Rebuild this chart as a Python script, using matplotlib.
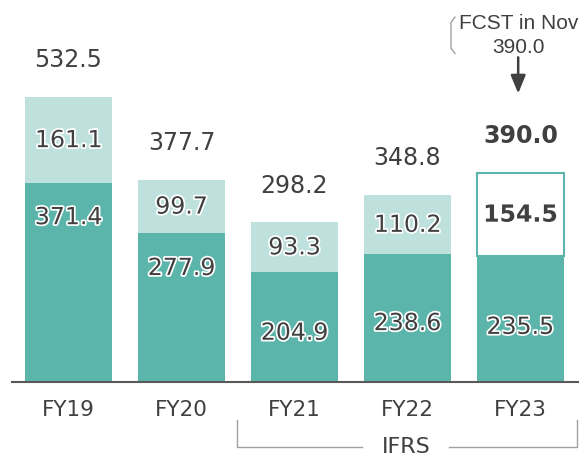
import matplotlib.pyplot as plt
import matplotlib.patheffects as pe
import numpy as np

years = ["FY19", "FY20", "FY21", "FY22", "FY23"]
lower = [371.4, 277.9, 204.9, 238.6, 235.5]
upper = [161.1, 99.7, 93.3, 110.2, 154.5]
totals = [532.5, 377.7, 298.2, 348.8, 390.0]
forecast = 390.0

# where the lower-segment numbers sit (value units), hand placed as in the slide
lower_label_y = [308, 213, 92, 110, 103]

dark = "#5bb5aa"
light = "#bfe1de"
txt = "#404040"

fig = plt.figure(figsize=(5.8, 4.58), dpi=100)
ax = fig.add_axes([0, 0, 1, 1])
ax.set_xlim(-0.606, 4.527)
ax.set_ylim(-142.1, 714.0)
ax.axis("off")

x = np.arange(len(years))
w = 0.77
ax.bar(x, lower, w, color=dark, zorder=2)
up_colors = [light] * 4 + ["white"]
ax.bar(x, upper, w, bottom=lower, color=up_colors, zorder=2)
ax.bar(x[-1:], upper[-1:], w, bottom=lower[-1:], facecolor="none",
       edgecolor=dark, linewidth=1.5, zorder=3)

halo = [pe.withStroke(linewidth=2.5, foreground="white")]
for i in range(len(years)):
    bold = i == len(years) - 1
    ax.text(x[i], lower_label_y[i], f"{lower[i]:.1f}", ha="center", va="center",
            fontsize=17, color=txt, path_effects=halo, zorder=4)
    ax.text(x[i], lower[i] + upper[i] / 2, f"{upper[i]:.1f}", ha="center", va="center",
            fontsize=17, color=txt, fontweight="bold" if bold else "normal",
            path_effects=halo, zorder=4)
    ax.text(x[i], totals[i] + 69, f"{totals[i]:.1f}", ha="center", va="center",
            fontsize=17, color=txt, fontweight="bold" if bold else "normal")
    ax.text(x[i], -52, years[i], ha="center", va="center", fontsize=15.5, color=txt)

# baseline
ax.plot([-0.5, 4.51], [0, 0], color="#595959", lw=1.5, zorder=5)

# IFRS bracket
gray = "#a0a0a0"
ax.plot([1.49, 1.49, 2.6], [-71, -121.5, -121.5], color=gray, lw=1)
ax.plot([3.37, 4.5, 4.5], [-121.5, -121.5, -71], color=gray, lw=1)
ax.text(2.985, -121, "IFRS", ha="center", va="center", fontsize=16, color=txt)

# forecast note
ax.text(3.98, 671, "FCST in Nov", ha="center", va="center", fontsize=15,
        color=txt, family="Liberation Sans")
ax.text(3.98, 625, f"{forecast:.1f}", ha="center", va="center", fontsize=15,
        color=txt, family="Liberation Sans")
ax.plot([3.42, 3.385, 3.385, 3.42], [682, 672, 624, 614], color=gray, lw=1)
ax.annotate("", xy=(3.98, 534), xytext=(3.98, 612),
            arrowprops=dict(arrowstyle="-|>,head_width=0.45,head_length=1.1",
                            color=txt, lw=1.8))

fig.savefig("out.png", dpi=100)
